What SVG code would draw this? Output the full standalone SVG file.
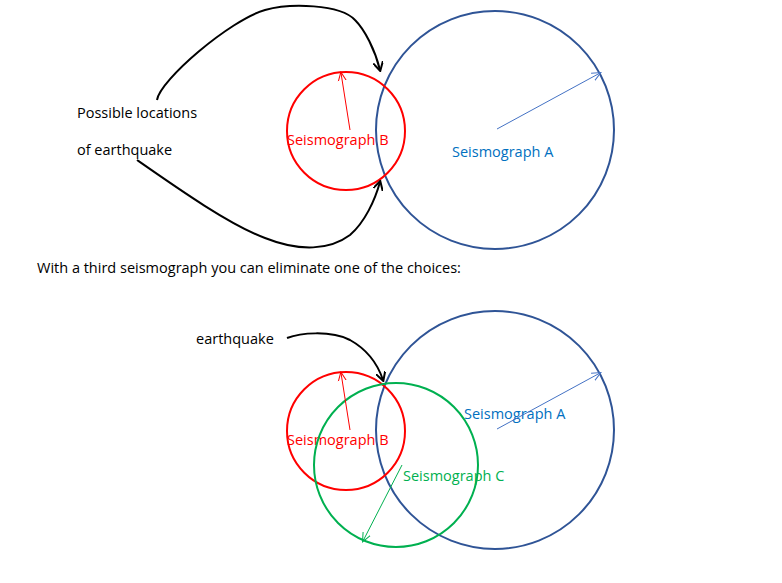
<svg xmlns="http://www.w3.org/2000/svg" width="782" height="583" viewBox="0 0 782 583">
<style>
text{font-family:"Open Sans","Liberation Sans",sans-serif;font-size:14.5px}
.k{fill:#000}.r{fill:#ff0000}.b{fill:#0070c0}.g{fill:#00b050}
.cA{fill:none;stroke:#2f5496;stroke-width:2}
.cB{fill:none;stroke:#ff0000;stroke-width:2}
.cC{fill:none;stroke:#00b050;stroke-width:2}
.bk{fill:none;stroke:#000;stroke-width:2}
</style>
<defs>
<marker id="mk" markerWidth="10" markerHeight="10" refX="8" refY="5" orient="auto" markerUnits="userSpaceOnUse"><path d="M0,0 L9,5 L0,10" fill="none" stroke="#000" stroke-width="2"/></marker>
<marker id="mb" markerWidth="10" markerHeight="10" refX="8" refY="5" orient="auto" markerUnits="userSpaceOnUse"><path d="M0,1 L9,5 L0,9" fill="none" stroke="#4472c4" stroke-width="1"/></marker>
<marker id="mr" markerWidth="10" markerHeight="10" refX="8" refY="5" orient="auto" markerUnits="userSpaceOnUse"><path d="M0,1 L9,5 L0,9" fill="none" stroke="#ff0000" stroke-width="1"/></marker>
<marker id="mg" markerWidth="10" markerHeight="10" refX="8" refY="5" orient="auto" markerUnits="userSpaceOnUse"><path d="M0,1 L9,5 L0,9" fill="none" stroke="#00b050" stroke-width="1"/></marker>
</defs>
<g id="top-A"><circle class="cA" cx="495" cy="130" r="119"/><text class="b" x="452" y="157">Seismograph A</text></g>
<g id="top-B"><circle class="cB" cx="346" cy="131" r="59"/><text class="r" x="287" y="145">Seismograph B</text></g>
<g id="labels"><text class="k" x="77" y="118">Possible locations</text><text class="k" x="77" y="155">of earthquake</text>
<text class="k" x="37" y="273">With a third seismograph you can eliminate one of the choices:</text>
<text class="k" x="196" y="344">earthquake</text></g>
<g id="bot-A"><circle class="cA" cx="495" cy="430" r="119"/><text class="b" x="464" y="419">Seismograph A</text></g>
<g id="bot-B"><circle class="cB" cx="346" cy="431" r="59"/><text class="r" x="287" y="445">Seismograph B</text></g>
<g id="bot-C"><circle class="cC" cx="396" cy="465" r="82"/><text class="g" x="403" y="481">Seismograph C</text></g>
<g id="connectors">
<path class="bk" d="M157,100 C160,80 230,20 265,10 C290,3 340,4 355,20 C365,30 375,50 380,70" marker-end="url(#mk)"/>
<path class="bk" d="M137,160 C180,190 230,225 265,238 C300,252 330,250 350,235 C365,222 375,200 380,182" marker-end="url(#mk)"/>
<line x1="497" y1="129" x2="600" y2="73" stroke="#4472c4" marker-end="url(#mb)"/>
<line x1="350" y1="130" x2="341" y2="73" stroke="#ff0000" marker-end="url(#mr)"/>
<path class="bk" d="M287,338 C300,333 330,330 350,340 C368,350 378,365 383,380" marker-end="url(#mk)"/>
<line x1="497" y1="429" x2="600" y2="373" stroke="#4472c4" marker-end="url(#mb)"/>
<line x1="350" y1="430" x2="341" y2="373" stroke="#ff0000" marker-end="url(#mr)"/>
<line x1="402" y1="465" x2="363" y2="541" stroke="#00b050" marker-end="url(#mg)"/>
</g>
</svg>
